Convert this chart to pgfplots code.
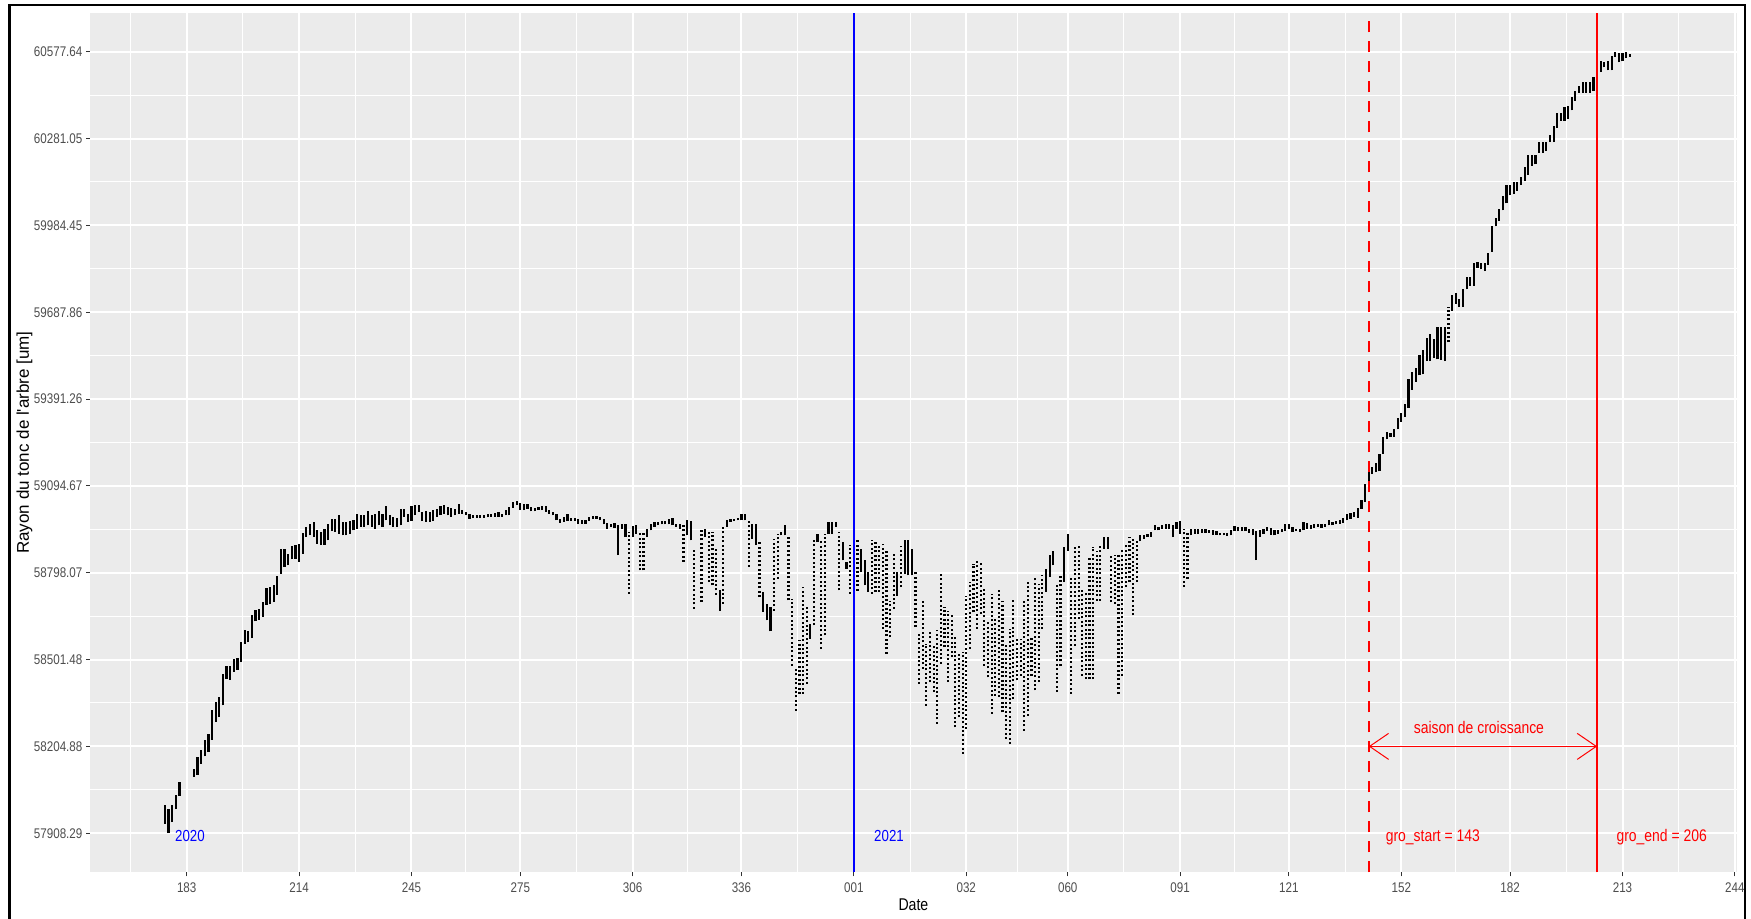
\documentclass[border=0pt]{standalone}
\usepackage{fontspec}
\setmainfont{Liberation Sans}[FakeStretch=0.83]
\newfontfamily\plainsans{Liberation Sans}
\usepackage{pgfplots}
\pgfplotsset{compat=1.18}
\usepackage{pgfplotstable}
\usetikzlibrary{arrows.meta}
\definecolor{panelbg}{HTML}{EBEBEB}
\definecolor{ticktext}{HTML}{4D4D4D}
\definecolor{tickmark}{HTML}{333333}

\pgfplotstableread{
d lo hi
177 57940 58003
178 57909 57991
179 57946 58003
180 57991 58039
181 58037 58082
185 58102 58128
186 58108 58168
187 58145 58193
188 58171 58228
189 58185 58248
190 58228 58330
191 58288 58356
192 58305 58375
193 58345 58453
194 58436 58478
195 58432 58481
196 58459 58502
197 58467 58507
198 58493 58561
199 58555 58603
200 58560 58600
201 58575 58655
202 58632 58670
203 58638 58675
204 58647 58698
205 58689 58746
206 58690 58749
207 58698 58755
208 58723 58786
209 58795 58880
210 58818 58880
211 58823 58863
212 58844 58888
213 58846 58892
214 58835 58897
215 58863 58935
216 58920 58955
217 58926 58966
218 58920 58972
219 58897 58943
220 58892 58937
221 58894 58949
222 58909 58966
223 58940 58983
224 58937 58983
225 58932 58994
226 58926 58972
227 58926 58972
228 58932 58974
229 58943 58977
230 58949 59000
231 58955 58994
232 58955 58994
233 58960 59008
234 58955 58994
235 58949 59000
236 58960 59008
237 58955 59000
238 58977 59026
239 58960 58994
240 58955 58989
241 58955 58985
242 58960 59017
243 58989 59017
244 58972 59000
245 58974 59026
246 58994 59031
247 59006 59028
248 58974 59006
249 58972 59008
250 58972 59006
251 58974 59011
252 58989 59017
253 58994 59026
254 59000 59031
255 58994 59023
256 58989 59020
257 58994 59017
258 59000 59034
259 59000 59011
260 58994 59006
261 58983 59000
262 58985 58994
263 58985 58994
264 58985 58994
265 58986 58996
266 58987 58997
267 58989 59000
268 58990 59003
269 58990 59005
270 58989 59000
271 58994 59012
272 58994 59023
273 59020 59040
274 59029 59042
275 59012 59037
276 59012 59034
277 59017 59032
278 59008 59023
279 59008 59020
280 59012 59023
281 59012 59025
282 59006 59026
283 59000 59012
284 58994 59006
285 58977 59000
286 58969 58983
287 58972 58989
288 58974 58997
289 58974 58985
290 58974 58985
291 58966 58983
292 58966 58977
293 58966 58977
294 58974 58989
295 58981 58991
296 58983 58992
297 58977 58989
298 58963 58983
299 58949 58969
300 58955 58966
301 58951 58969
302 58858 58960
303 58946 58966
304 58920 58966
305 58726 58937
306 58920 58957
307 58932 58960
308 58806 58937
309 58806 58937
310 58920 58949
311 58943 58966
312 58955 58972
313 58960 58972
314 58963 58974
315 58963 58974
316 58963 58983
317 58960 58985
318 58955 58966
319 58949 58966
320 58835 58960
321 58926 58977
322 58909 58974
323 58675 58880
324 58618 58738
325 58698 58943
326 58920 58946
327 58766 58943
328 58755 58937
329 58723 58883
330 58669 58738
331 58692 58955
332 58955 58977
333 58972 58983
334 58974 58983
335 58977 58985
336 58977 58997
337 58977 59000
338 58818 58977
339 58914 58966
340 58892 58966
341 58715 58903
342 58664 58732
343 58635 58692
344 58598 58681
345 58669 58914
346 58778 58932
347 58926 58937
348 58926 58960
349 58704 58926
350 58481 58709
351 58327 58470
352 58384 58567
353 58384 58749
354 58419 58681
355 58572 58624
356 58618 58914
357 58903 58932
358 58538 58909
359 58584 58932
360 58932 58972
361 58932 58972
362 58955 58972
363 58738 58937
364 58840 58903
365 58812 58835
366 58726 58892
367 58738 58914
368 58737 58914
369 58800 58880
370 58755 58840
371 58732 58800
372 58726 58909
373 58732 58909
374 58732 58891
375 58606 58897
376 58521 58874
377 58578 58703
378 58675 58863
379 58720 58800
380 58749 58891
381 58795 58909
382 58789 58909
383 58789 58880
384 58612 58806
385 58418 58595
386 58470 58709
387 58344 58555
388 58424 58595
389 58390 58555
390 58282 58601
391 58487 58802
392 58544 58681
393 58424 58669
394 58510 58658
395 58270 58584
396 58304 58527
397 58179 58527
398 58264 58720
399 58538 58766
400 58663 58829
401 58606 58846
402 58658 58834
403 58481 58743
404 58441 58629
405 58316 58726
406 58378 58641
407 58373 58738
408 58321 58703
409 58230 58555
410 58213 58606
411 58367 58709
412 58430 58572
413 58447 58572
414 58259 58703
415 58310 58772
416 58447 58578
417 58396 58783
418 58424 58760
419 58606 58789
420 58732 58812
421 58783 58857
422 58823 58874
423 58390 58755
424 58481 58789
425 58766 58886
426 58874 58931
427 58384 58783
428 58549 58894
429 58641 58891
430 58447 58743
431 58435 58732
432 58435 58852
433 58435 58886
434 58703 58874
435 58703 58891
436 58880 58920
437 58880 58920
438 58698 58858
439 58692 58858
440 58385 58858
441 58447 58875
442 58749 58892
443 58766 58920
444 58652 58914
445 58766 58914
446 58905 58926
447 58914 58926
448 58920 58932
449 58920 58937
450 58943 58960
451 58943 58955
452 58949 58960
453 58949 58966
454 58946 58966
455 58920 58960
456 58949 58972
457 58932 58974
458 58749 58949
459 58778 58937
460 58926 58949
461 58932 58949
462 58932 58946
463 58935 58946
464 58935 58949
465 58935 58945
466 58928 58943
467 58928 58940
468 58926 58935
469 58926 58934
470 58923 58934
471 58926 58943
472 58940 58957
473 58940 58955
474 58940 58955
475 58940 58955
476 58935 58949
477 58926 58946
478 58841 58940
479 58920 58943
480 58932 58949
481 58940 58955
482 58928 58951
483 58926 58943
484 58932 58943
485 58937 58949
486 58940 58963
487 58949 58963
488 58937 58955
489 58940 58949
490 58937 58946
491 58943 58972
492 58949 58969
493 58946 58960
494 58951 58963
495 58955 58966
496 58951 58966
497 58955 58966
498 58960 58977
499 58960 58972
500 58963 58974
501 58966 58977
502 58969 58985
503 58977 58997
504 58983 59003
505 58988 59006
506 58986 59020
507 59017 59045
508 59040 59100
509 59097 59142
510 59135 59160
511 59141 59172
512 59144 59205
513 59205 59261
514 59254 59278
515 59261 59274
516 59261 59288
517 59288 59325
518 59313 59343
519 59331 59376
520 59362 59460
521 59423 59484
522 59450 59497
523 59472 59542
524 59476 59558
525 59521 59601
526 59521 59613
527 59533 59597
528 59527 59638
529 59525 59638
530 59521 59638
531 59585 59707
532 59693 59748
533 59717 59752
534 59705 59732
535 59705 59766
536 59766 59809
537 59779 59809
538 59779 59855
539 59840 59858
540 59834 59855
541 59828 59855
542 59850 59891
543 59895 59984
544 59981 60009
545 59999 60042
546 60036 60085
547 60060 60122
548 60087 60124
549 60091 60134
550 60103 60134
551 60122 60149
552 60136 60183
553 60158 60226
554 60189 60226
555 60193 60226
556 60232 60269
557 60232 60271
558 60238 60269
559 60269 60293
560 60269 60324
561 60318 60369
562 60342 60369
563 60342 60389
564 60348 60391
565 60377 60422
566 60410 60443
567 60438 60462
568 60438 60475
569 60438 60475
570 60438 60475
571 60443 60492
573 60508 60545
574 60524 60541
575 60514 60545
576 60514 60563
577 60560 60577
578 60541 60575
579 60545 60575
580 60557 60577
581 60560 60569
}\radius

\begin{document}
\begin{tikzpicture}
\useasboundingbox (0,0) rectangle (875.5pt,459.5pt);
\begin{axis}[
  at={(45pt,23.35pt)}, anchor=south west, scale only axis,
  width=823.35pt, height=429.8pt,
  xmin=156.33, xmax=610.5, ymin=57774.82, ymax=60711.11,
  scaled x ticks=false, scaled y ticks=false,
  axis background/.style={fill=panelbg},
  axis line style={draw=none},
  xtick={183,214,245,275,306,336,367,398,426,457,487,518,548,579,610},
  xticklabels={183,214,245,275,306,336,001,032,060,091,121,152,182,213,244},
  ytick={57908.29,58204.88,58501.48,58798.07,59094.67,59391.26,59687.86,59984.45,60281.05,60577.64},
  yticklabels={57908.29,58204.88,58501.48,58798.07,59094.67,59391.26,59687.86,59984.45,60281.05,60577.64},
  minor xtick={167.5,198.5,229.5,260,290.5,321,351.5,382.5,412,441.5,472,502.5,533,563.5,594.5},
  minor ytick={58056.585,58353.18,58649.775,58946.37,59242.965,59539.56,59836.155,60132.75,60429.345},
  grid=both,
  major grid style={white, line width=1pt},
  minor grid style={white, line width=0.5pt},
  tick align=outside, tick pos=left,
  major tick length=2pt, minor tick length=0pt,
  tick style={color=tickmark, line width=0.5pt},
  xticklabel style={font=\fontsize{7}{8}\selectfont, text=ticktext, inner sep=0pt, anchor=north, yshift=-3pt},
  yticklabel style={font=\fontsize{7}{8}\selectfont, text=ticktext, inner sep=0pt, anchor=east, xshift=-1.6pt},
]
\addplot[draw=none, no marks,
  restrict expr to domain={\thisrow{hi}-\thisrow{lo}}{0:120},
  error bars/.cd, y dir=plus, y explicit, error mark=none,
  error bar style={draw=black, line width=1.1pt, solid}]
  table[x=d, y=lo, y error expr=\thisrow{hi}-\thisrow{lo}] {\radius};
\addplot[draw=none, no marks,
  restrict expr to domain={\thisrow{hi}-\thisrow{lo}}{120.5:5000},
  error bars/.cd, y dir=plus, y explicit, error mark=none,
  error bar style={draw=black, line width=1.1pt, dash pattern=on 1pt off 1.2pt}]
  table[x=d, y=lo, y error expr=\thisrow{hi}-\thisrow{lo}] {\radius};
\addplot[blue, line width=1pt] coordinates {(367,57774.82) (367,60711.11)};
\addplot[red, line width=1pt, dash pattern=on 5.5pt off 4.5pt] coordinates {(509,57774.82) (509,60711.11)};
\addplot[red, line width=1pt] coordinates {(572,57774.82) (572,60711.11)};
\draw[red, line width=0.5pt, {Straight Barb[length=9.5pt,width=13pt]}-{Straight Barb[length=9.5pt,width=13pt]}] (axis cs:509,58204.88) -- (axis cs:572,58204.88);
\node[red, font=\fontsize{8.4}{10}\selectfont, anchor=base] at (axis cs:539.4,58250) {saison de croissance};
\node[red, font=\fontsize{8.4}{10}\selectfont, anchor=base] at (axis cs:526.7,57880) {gro\_start = 143};
\node[red, font=\fontsize{8.4}{10}\selectfont, anchor=base] at (axis cs:589.8,57880) {gro\_end = 206};
\node[blue, font=\fontsize{8}{10}\selectfont, anchor=base] at (axis cs:183.9,57880) {2020};
\node[blue, font=\fontsize{8}{10}\selectfont, anchor=base] at (axis cs:376.7,57880) {2021};
\end{axis}
\node[font=\fontsize{8.5}{10}\selectfont] at (456.7pt,7pt) {Date};
\node[font=\plainsans\fontsize{8.5}{10}\selectfont, rotate=90] at (12.25pt,238.25pt) {Rayon du tonc de l\textquotesingle arbre [um]};
\draw[black, line width=1.2pt] (4.75pt,0pt) -- (4.75pt,457pt) -- (872.5pt,457pt) -- (872.5pt,0pt);
\end{tikzpicture}
\end{document}
